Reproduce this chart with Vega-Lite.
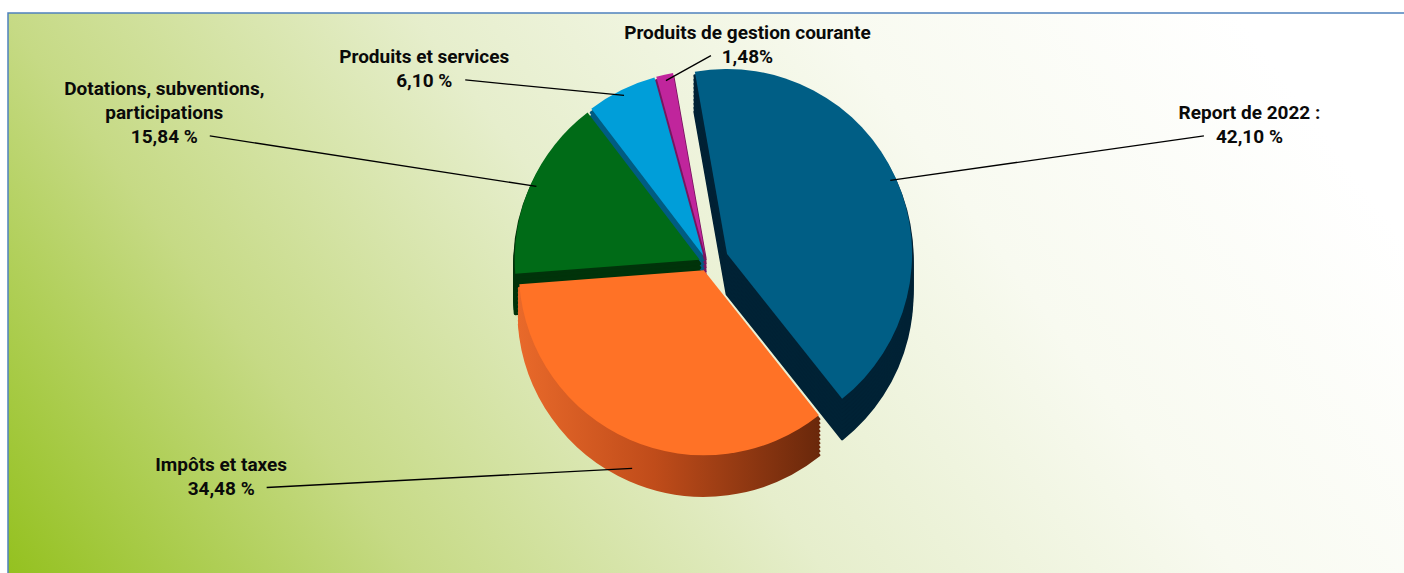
{
  "$schema": "https://vega.github.io/schema/vega-lite/v6.json",
  "width": 1404,
  "height": 573,
  "autosize": {"type": "fit", "contains": "padding"},
  "padding": {"left": 8, "top": 13, "right": -2, "bottom": -2},
  "background": "#ffffff",
  "config": {
    "view": {
      "stroke": "#4f81bd",
      "strokeWidth": 1.5,
      "fill": {"gradient": "linear", "x1": 0, "y1": 1, "x2": 1.08, "y2": 0.68,
        "stops": [
          {"offset": 0, "color": "#94c11f"},
          {"offset": 0.25, "color": "#c6da85"},
          {"offset": 0.5, "color": "#e6eecc"},
          {"offset": 0.75, "color": "#f8faf0"},
          {"offset": 1, "color": "#ffffff"}
        ]}
    }
  },
  "params": [
    {"name": "pcx", "expr": "width/2"},
    {"name": "pcy", "expr": "height/2 - 31"},
    {"name": "off", "value": -0.175},
    {"name": "R", "value": 185}
  ],
  "data": {
    "values": [
      {"name": "Report de 2022", "label": "Report de 2022 :\n42,10 %", "pct": 42.10, "order": 1},
      {"name": "Impôts et taxes", "label": "Impôts et taxes\n34,48 %", "pct": 34.48, "order": 2},
      {"name": "Dotations, subventions, participations", "label": "Dotations, subventions,\nparticipations\n15,84 %", "pct": 15.84, "order": 3},
      {"name": "Produits et services", "label": "Produits et services\n6,10 %", "pct": 6.10, "order": 4},
      {"name": "Produits de gestion courante", "label": "Produits de gestion courante\n1,48%", "pct": 1.48, "order": 5}
    ]
  },
  "transform": [
    {"stack": "pct", "groupby": [], "sort": [{"field": "order", "order": "ascending"}], "as": ["start", "end"]}
  ],
  "layer": [
    {
      "mark": {"type": "arc", "radius": 185, "strokeWidth": 3, "strokeJoin": "round"},
      "encoding": {
        "theta": {"field": "start", "type": "quantitative", "stack": null, "scale": {"domain": [0, 100], "range": [-0.175, 6.108185307]}},
        "theta2": {"field": "end"},
        "fill": {"condition": {"test": "datum.order == 2", "value": {"gradient": "linear", "x1": 0, "y1": 0, "x2": 1, "y2": 0, "stops": [{"offset": 0, "color": "#e8692a"}, {"offset": 0.45, "color": "#c04c1a"}, {"offset": 1, "color": "#6a280b"}]}}, "field": "name", "type": "nominal", "legend": null, "scale": {"domain": ["Report de 2022", "Impôts et taxes", "Dotations, subventions, participations", "Produits et services", "Produits de gestion courante"], "range": ["#002235", "#b84a1a", "#00330a", "#005c82", "#78155f"]}},
        "stroke": {"condition": {"test": "datum.order == 2", "value": {"gradient": "linear", "x1": 0, "y1": 0, "x2": 1, "y2": 0, "stops": [{"offset": 0, "color": "#e8692a"}, {"offset": 0.45, "color": "#c04c1a"}, {"offset": 1, "color": "#6a280b"}]}}, "field": "name", "type": "nominal", "legend": null, "scale": {"domain": ["Report de 2022", "Impôts et taxes", "Dotations, subventions, participations", "Produits et services", "Produits de gestion courante"], "range": ["#002235", "#b84a1a", "#00330a", "#005c82", "#78155f"]}},
        "x": {"value": {"expr": "pcx + (datum.order==1?22:8)*sin((datum.start+datum.end)*PI/100+off)"}},
        "y": {"value": {"expr": "pcy + 40 - (datum.order==1?22:8)*cos((datum.start+datum.end)*PI/100+off)"}}
      }
    },
    {
      "mark": {"type": "arc", "radius": 185, "strokeWidth": 3, "strokeJoin": "round"},
      "encoding": {
        "theta": {"field": "start", "type": "quantitative", "stack": null, "scale": {"domain": [0, 100], "range": [-0.175, 6.108185307]}},
        "theta2": {"field": "end"},
        "fill": {"condition": {"test": "datum.order == 2", "value": {"gradient": "linear", "x1": 0, "y1": 0, "x2": 1, "y2": 0, "stops": [{"offset": 0, "color": "#e8692a"}, {"offset": 0.45, "color": "#c04c1a"}, {"offset": 1, "color": "#6a280b"}]}}, "field": "name", "type": "nominal", "legend": null},
        "stroke": {"condition": {"test": "datum.order == 2", "value": {"gradient": "linear", "x1": 0, "y1": 0, "x2": 1, "y2": 0, "stops": [{"offset": 0, "color": "#e8692a"}, {"offset": 0.45, "color": "#c04c1a"}, {"offset": 1, "color": "#6a280b"}]}}, "field": "name", "type": "nominal", "legend": null},
        "x": {"value": {"expr": "pcx + (datum.order==1?22:8)*sin((datum.start+datum.end)*PI/100+off)"}},
        "y": {"value": {"expr": "pcy + 36 - (datum.order==1?22:8)*cos((datum.start+datum.end)*PI/100+off)"}}
      }
    },
    {
      "mark": {"type": "arc", "radius": 185, "strokeWidth": 3, "strokeJoin": "round"},
      "encoding": {
        "theta": {"field": "start", "type": "quantitative", "stack": null, "scale": {"domain": [0, 100], "range": [-0.175, 6.108185307]}},
        "theta2": {"field": "end"},
        "fill": {"condition": {"test": "datum.order == 2", "value": {"gradient": "linear", "x1": 0, "y1": 0, "x2": 1, "y2": 0, "stops": [{"offset": 0, "color": "#e8692a"}, {"offset": 0.45, "color": "#c04c1a"}, {"offset": 1, "color": "#6a280b"}]}}, "field": "name", "type": "nominal", "legend": null},
        "stroke": {"condition": {"test": "datum.order == 2", "value": {"gradient": "linear", "x1": 0, "y1": 0, "x2": 1, "y2": 0, "stops": [{"offset": 0, "color": "#e8692a"}, {"offset": 0.45, "color": "#c04c1a"}, {"offset": 1, "color": "#6a280b"}]}}, "field": "name", "type": "nominal", "legend": null},
        "x": {"value": {"expr": "pcx + (datum.order==1?22:8)*sin((datum.start+datum.end)*PI/100+off)"}},
        "y": {"value": {"expr": "pcy + 32 - (datum.order==1?22:8)*cos((datum.start+datum.end)*PI/100+off)"}}
      }
    },
    {
      "mark": {"type": "arc", "radius": 185, "strokeWidth": 3, "strokeJoin": "round"},
      "encoding": {
        "theta": {"field": "start", "type": "quantitative", "stack": null, "scale": {"domain": [0, 100], "range": [-0.175, 6.108185307]}},
        "theta2": {"field": "end"},
        "fill": {"condition": {"test": "datum.order == 2", "value": {"gradient": "linear", "x1": 0, "y1": 0, "x2": 1, "y2": 0, "stops": [{"offset": 0, "color": "#e8692a"}, {"offset": 0.45, "color": "#c04c1a"}, {"offset": 1, "color": "#6a280b"}]}}, "field": "name", "type": "nominal", "legend": null},
        "stroke": {"condition": {"test": "datum.order == 2", "value": {"gradient": "linear", "x1": 0, "y1": 0, "x2": 1, "y2": 0, "stops": [{"offset": 0, "color": "#e8692a"}, {"offset": 0.45, "color": "#c04c1a"}, {"offset": 1, "color": "#6a280b"}]}}, "field": "name", "type": "nominal", "legend": null},
        "x": {"value": {"expr": "pcx + (datum.order==1?22:8)*sin((datum.start+datum.end)*PI/100+off)"}},
        "y": {"value": {"expr": "pcy + 28 - (datum.order==1?22:8)*cos((datum.start+datum.end)*PI/100+off)"}}
      }
    },
    {
      "mark": {"type": "arc", "radius": 185, "strokeWidth": 3, "strokeJoin": "round"},
      "encoding": {
        "theta": {"field": "start", "type": "quantitative", "stack": null, "scale": {"domain": [0, 100], "range": [-0.175, 6.108185307]}},
        "theta2": {"field": "end"},
        "fill": {"condition": {"test": "datum.order == 2", "value": {"gradient": "linear", "x1": 0, "y1": 0, "x2": 1, "y2": 0, "stops": [{"offset": 0, "color": "#e8692a"}, {"offset": 0.45, "color": "#c04c1a"}, {"offset": 1, "color": "#6a280b"}]}}, "field": "name", "type": "nominal", "legend": null},
        "stroke": {"condition": {"test": "datum.order == 2", "value": {"gradient": "linear", "x1": 0, "y1": 0, "x2": 1, "y2": 0, "stops": [{"offset": 0, "color": "#e8692a"}, {"offset": 0.45, "color": "#c04c1a"}, {"offset": 1, "color": "#6a280b"}]}}, "field": "name", "type": "nominal", "legend": null},
        "x": {"value": {"expr": "pcx + (datum.order==1?22:8)*sin((datum.start+datum.end)*PI/100+off)"}},
        "y": {"value": {"expr": "pcy + 24 - (datum.order==1?22:8)*cos((datum.start+datum.end)*PI/100+off)"}}
      }
    },
    {
      "mark": {"type": "arc", "radius": 185, "strokeWidth": 3, "strokeJoin": "round"},
      "encoding": {
        "theta": {"field": "start", "type": "quantitative", "stack": null, "scale": {"domain": [0, 100], "range": [-0.175, 6.108185307]}},
        "theta2": {"field": "end"},
        "fill": {"condition": {"test": "datum.order == 2", "value": {"gradient": "linear", "x1": 0, "y1": 0, "x2": 1, "y2": 0, "stops": [{"offset": 0, "color": "#e8692a"}, {"offset": 0.45, "color": "#c04c1a"}, {"offset": 1, "color": "#6a280b"}]}}, "field": "name", "type": "nominal", "legend": null},
        "stroke": {"condition": {"test": "datum.order == 2", "value": {"gradient": "linear", "x1": 0, "y1": 0, "x2": 1, "y2": 0, "stops": [{"offset": 0, "color": "#e8692a"}, {"offset": 0.45, "color": "#c04c1a"}, {"offset": 1, "color": "#6a280b"}]}}, "field": "name", "type": "nominal", "legend": null},
        "x": {"value": {"expr": "pcx + (datum.order==1?22:8)*sin((datum.start+datum.end)*PI/100+off)"}},
        "y": {"value": {"expr": "pcy + 20 - (datum.order==1?22:8)*cos((datum.start+datum.end)*PI/100+off)"}}
      }
    },
    {
      "mark": {"type": "arc", "radius": 185, "strokeWidth": 3, "strokeJoin": "round"},
      "encoding": {
        "theta": {"field": "start", "type": "quantitative", "stack": null, "scale": {"domain": [0, 100], "range": [-0.175, 6.108185307]}},
        "theta2": {"field": "end"},
        "fill": {"condition": {"test": "datum.order == 2", "value": {"gradient": "linear", "x1": 0, "y1": 0, "x2": 1, "y2": 0, "stops": [{"offset": 0, "color": "#e8692a"}, {"offset": 0.45, "color": "#c04c1a"}, {"offset": 1, "color": "#6a280b"}]}}, "field": "name", "type": "nominal", "legend": null},
        "stroke": {"condition": {"test": "datum.order == 2", "value": {"gradient": "linear", "x1": 0, "y1": 0, "x2": 1, "y2": 0, "stops": [{"offset": 0, "color": "#e8692a"}, {"offset": 0.45, "color": "#c04c1a"}, {"offset": 1, "color": "#6a280b"}]}}, "field": "name", "type": "nominal", "legend": null},
        "x": {"value": {"expr": "pcx + (datum.order==1?22:8)*sin((datum.start+datum.end)*PI/100+off)"}},
        "y": {"value": {"expr": "pcy + 16 - (datum.order==1?22:8)*cos((datum.start+datum.end)*PI/100+off)"}}
      }
    },
    {
      "mark": {"type": "arc", "radius": 185, "strokeWidth": 3, "strokeJoin": "round"},
      "encoding": {
        "theta": {"field": "start", "type": "quantitative", "stack": null, "scale": {"domain": [0, 100], "range": [-0.175, 6.108185307]}},
        "theta2": {"field": "end"},
        "fill": {"condition": {"test": "datum.order == 2", "value": {"gradient": "linear", "x1": 0, "y1": 0, "x2": 1, "y2": 0, "stops": [{"offset": 0, "color": "#e8692a"}, {"offset": 0.45, "color": "#c04c1a"}, {"offset": 1, "color": "#6a280b"}]}}, "field": "name", "type": "nominal", "legend": null},
        "stroke": {"condition": {"test": "datum.order == 2", "value": {"gradient": "linear", "x1": 0, "y1": 0, "x2": 1, "y2": 0, "stops": [{"offset": 0, "color": "#e8692a"}, {"offset": 0.45, "color": "#c04c1a"}, {"offset": 1, "color": "#6a280b"}]}}, "field": "name", "type": "nominal", "legend": null},
        "x": {"value": {"expr": "pcx + (datum.order==1?22:8)*sin((datum.start+datum.end)*PI/100+off)"}},
        "y": {"value": {"expr": "pcy + 12 - (datum.order==1?22:8)*cos((datum.start+datum.end)*PI/100+off)"}}
      }
    },
    {
      "mark": {"type": "arc", "radius": 185, "strokeWidth": 3, "strokeJoin": "round"},
      "encoding": {
        "theta": {"field": "start", "type": "quantitative", "stack": null, "scale": {"domain": [0, 100], "range": [-0.175, 6.108185307]}},
        "theta2": {"field": "end"},
        "fill": {"condition": {"test": "datum.order == 2", "value": {"gradient": "linear", "x1": 0, "y1": 0, "x2": 1, "y2": 0, "stops": [{"offset": 0, "color": "#e8692a"}, {"offset": 0.45, "color": "#c04c1a"}, {"offset": 1, "color": "#6a280b"}]}}, "field": "name", "type": "nominal", "legend": null},
        "stroke": {"condition": {"test": "datum.order == 2", "value": {"gradient": "linear", "x1": 0, "y1": 0, "x2": 1, "y2": 0, "stops": [{"offset": 0, "color": "#e8692a"}, {"offset": 0.45, "color": "#c04c1a"}, {"offset": 1, "color": "#6a280b"}]}}, "field": "name", "type": "nominal", "legend": null},
        "x": {"value": {"expr": "pcx + (datum.order==1?22:8)*sin((datum.start+datum.end)*PI/100+off)"}},
        "y": {"value": {"expr": "pcy + 8 - (datum.order==1?22:8)*cos((datum.start+datum.end)*PI/100+off)"}}
      }
    },
    {
      "mark": {"type": "arc", "radius": 185, "strokeWidth": 3, "strokeJoin": "round"},
      "encoding": {
        "theta": {"field": "start", "type": "quantitative", "stack": null, "scale": {"domain": [0, 100], "range": [-0.175, 6.108185307]}},
        "theta2": {"field": "end"},
        "fill": {"condition": {"test": "datum.order == 2", "value": {"gradient": "linear", "x1": 0, "y1": 0, "x2": 1, "y2": 0, "stops": [{"offset": 0, "color": "#e8692a"}, {"offset": 0.45, "color": "#c04c1a"}, {"offset": 1, "color": "#6a280b"}]}}, "field": "name", "type": "nominal", "legend": null},
        "stroke": {"condition": {"test": "datum.order == 2", "value": {"gradient": "linear", "x1": 0, "y1": 0, "x2": 1, "y2": 0, "stops": [{"offset": 0, "color": "#e8692a"}, {"offset": 0.45, "color": "#c04c1a"}, {"offset": 1, "color": "#6a280b"}]}}, "field": "name", "type": "nominal", "legend": null},
        "x": {"value": {"expr": "pcx + (datum.order==1?22:8)*sin((datum.start+datum.end)*PI/100+off)"}},
        "y": {"value": {"expr": "pcy + 4 - (datum.order==1?22:8)*cos((datum.start+datum.end)*PI/100+off)"}}
      }
    },
    {
      "mark": {"type": "arc", "radius": 185},
      "encoding": {
        "theta": {"field": "start", "type": "quantitative", "stack": null, "scale": {"domain": [0, 100], "range": [-0.175, 6.108185307]}},
        "theta2": {"field": "end"},
        "color": {"field": "name", "type": "nominal", "legend": null, "scale": {"domain": ["Report de 2022", "Impôts et taxes", "Dotations, subventions, participations", "Produits et services", "Produits de gestion courante"], "range": ["#005e85", "#ff7226", "#006b17", "#009ed9", "#c0259c"]}},
        "x": {"value": {"expr": "pcx + (datum.order==1?22:8)*sin((datum.start+datum.end)*PI/100+off)"}},
        "y": {"value": {"expr": "pcy - (datum.order==1?22:8)*cos((datum.start+datum.end)*PI/100+off)"}}
      }
    },
    {
      "mark": {"type": "rule", "color": "#000000", "strokeWidth": 1.3},
      "encoding": {
        "x": {"value": {"expr": "pcx + (R-6+(datum.order==1?22:8))*sin((datum.start+datum.end)*PI/100+off)"}},
        "y": {"value": {"expr": "pcy - (R-6+(datum.order==1?22:8))*cos((datum.start+datum.end)*PI/100+off) + (cos((datum.start+datum.end)*PI/100+off) < -0.3 ? 34 : 0)"}},
        "x2": {"value": {"expr": "datum.order==5 ? pcx + (R+2)*sin((datum.start+datum.end)*PI/100+off) + 45 : pcx + (cos((datum.start+datum.end)*PI/100+off) < 0 ? 1100 : 545)*sin((datum.start+datum.end)*PI/100+off)"}},
        "y2": {"value": {"expr": "datum.order==5 ? pcy - (R+2)*cos((datum.start+datum.end)*PI/100+off) - 25 : (cos((datum.start+datum.end)*PI/100+off) < 0 ? pcy - 245*cos((datum.start+datum.end)*PI/100+off) : pcy - 80 - 115*cos((datum.start+datum.end)*PI/100+off))"}}
      }
    },
    {
      "mark": {
        "type": "text",
        "font": "Roboto, Liberation Sans, sans-serif",
        "fontWeight": "bold",
        "fontSize": 19,
        "lineBreak": "\n",
        "lineHeight": 24,
        "color": "#0a0a0a",
        "align": "center",
        "baseline": "bottom"
      },
      "encoding": {
        "text": {"field": "label", "type": "nominal"},
        "x": {"value": {"expr": "(datum.order==5 ? pcx + (R+2)*sin((datum.start+datum.end)*PI/100+off) + 45 : pcx + (cos((datum.start+datum.end)*PI/100+off) < 0 ? 1100 : 545)*sin((datum.start+datum.end)*PI/100+off)) + ((datum.order==5 || datum.end <= 50) ? 1 : -1)*(length(peek(split(datum.label, '\\n')))*4.5 + 14)"}},
        "y": {"value": {"expr": "(datum.order==5 ? pcy - (R+2)*cos((datum.start+datum.end)*PI/100+off) - 25 : (cos((datum.start+datum.end)*PI/100+off) < 0 ? pcy - 245*cos((datum.start+datum.end)*PI/100+off) : pcy - 80 - 115*cos((datum.start+datum.end)*PI/100+off))) + 11 - (length(split(datum.label, '\\n')) - 1)*24"}}
      }
    }
  ]
}
